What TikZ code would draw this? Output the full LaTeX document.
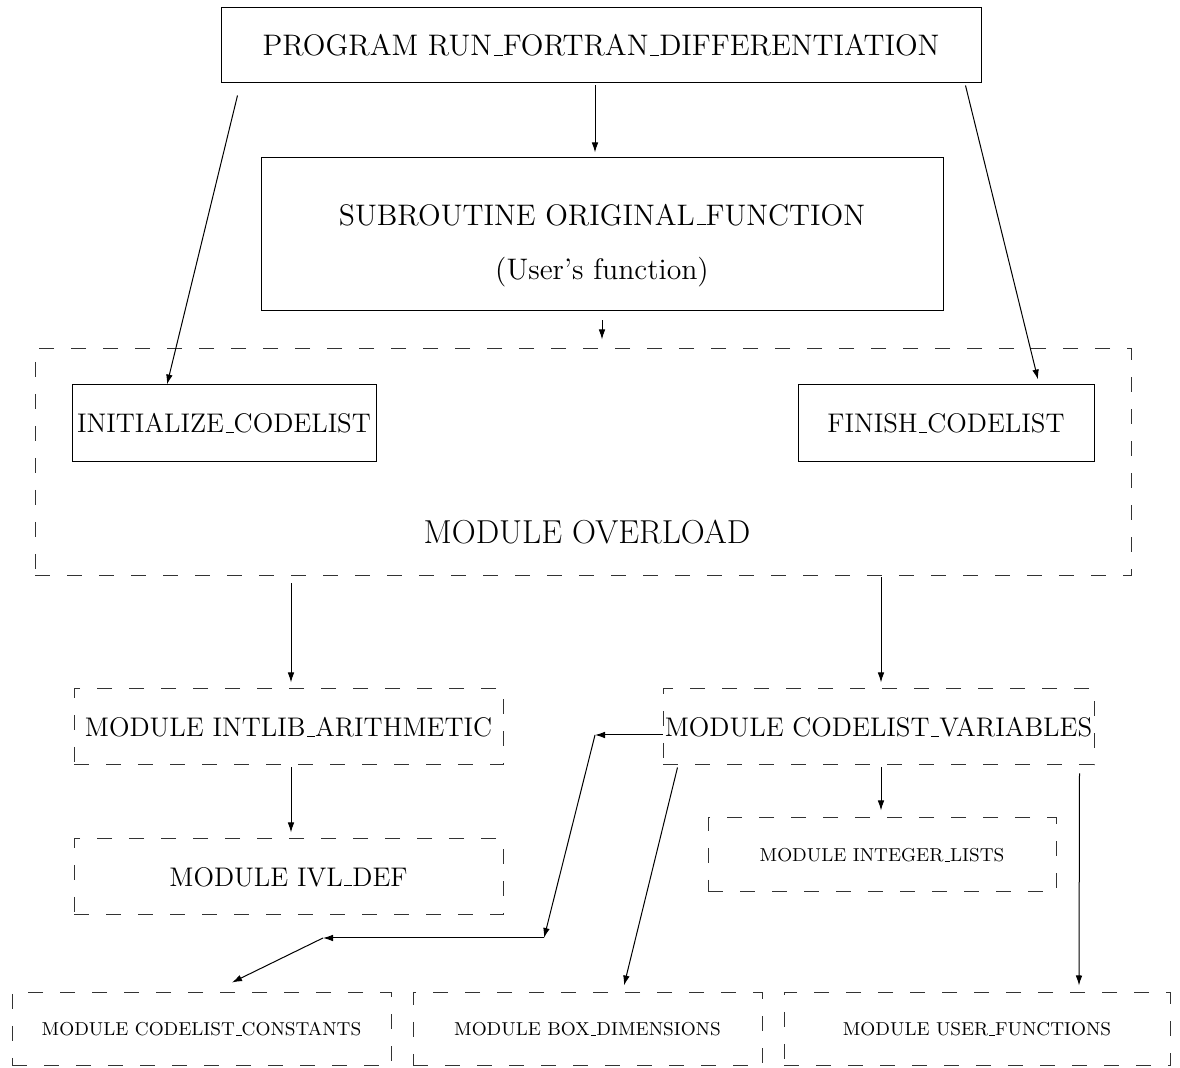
\documentclass[tikz,border=0pt]{standalone}
\usepackage{tikz}
\usetikzlibrary{positioning,arrows.meta}

\newcommand{\usc}{\leavevmode\kern.06em\vbox{\hrule width.3em}}

\begin{document}
\begin{tikzpicture}[x=0.5pt,y=-0.5pt,
    solidbox/.style={draw=black,line width=0.5pt,inner sep=0pt},
    dashbox/.style={draw=black!80,line width=0.5pt,dash pattern=on 7.5pt off 8.5pt,inner sep=0pt},
    arr/.style={-{Latex[length=5pt,width=3.3pt]},line width=0.5pt},
    bigtxt/.style={font=\fontsize{14.85}{17}\selectfont},
    midtxt/.style={font=\fontsize{13.45}{15}\selectfont},
    smalltxt/.style={font=\fontsize{9.35}{11}\selectfont}]

        \useasboundingbox (0,0) rectangle (1180,1068);

        % program and user function
        \node[solidbox,bigtxt,minimum width=380pt,minimum height=37.5pt] (prog) at (601,45.5) {PROGRAM RUN\usc FORTRAN\usc DIFFERENTIATION};
        \node[solidbox,minimum width=341pt,minimum height=76.5pt] (sub) at (602,234.5) {};
        \node[bigtxt] (subname) at (602,215) {SUBROUTINE ORIGINAL\usc FUNCTION};
        \node[bigtxt] (subnote) at (602,272) {(User's function)};

        % module overload
        \node[dashbox,minimum width=548pt,minimum height=113.5pt] (overload) at (583,462.5) {};
        \node[font=\fontsize{16.6}{19}\selectfont] (overloadname) at (587,532) {MODULE OVERLOAD};
        \node[solidbox,midtxt,minimum width=152pt,minimum height=38.5pt] (init) at (224,423.5) {INITIALIZE\usc CODELIST};
        \node[solidbox,midtxt,minimum width=148pt,minimum height=38.5pt] (finish) at (946,423.5) {FINISH\usc CODELIST};

        % used modules
        \node[dashbox,midtxt,minimum width=214.5pt,minimum height=38pt] (intlib) at (288.5,727) {MODULE INTLIB\usc ARITHMETIC};
        \node[dashbox,midtxt,minimum width=214.5pt,minimum height=38pt] (ivl) at (288.5,877) {MODULE IVL\usc DEF};
        \node[dashbox,midtxt,minimum width=215.5pt,minimum height=38pt] (cvars) at (878.5,727) {MODULE CODELIST\usc VARIABLES};
        \node[dashbox,smalltxt,minimum width=174pt,minimum height=37pt] (intlists) at (882,855) {MODULE INTEGER\usc LISTS};

        \node[dashbox,smalltxt,minimum width=189.5pt,minimum height=36.5pt] (consts) at (201.5,1029.5) {MODULE CODELIST\usc CONSTANTS};
        \node[dashbox,smalltxt,minimum width=174.5pt,minimum height=36.5pt] (boxdim) at (587.5,1029.5) {MODULE BOX\usc DIMENSIONS};
        \node[dashbox,smalltxt,minimum width=193pt,minimum height=36.5pt] (userfn) at (977,1029.5) {MODULE USER\usc FUNCTIONS};

        \coordinate (k1) at (595,735);
        \coordinate (k2) at (544,938);
        \coordinate (k3) at (323,938);

        \draw[arr] ([xshift=-3pt,yshift=-1pt]prog.south) to ([xshift=-3.5pt,yshift=2.5pt]sub.north);
        \draw[arr] ([yshift=-4.5pt]sub.south) to ([xshift=9.5pt,yshift=4.5pt]overload.north);
        \draw[arr] ([xshift=8.5pt,yshift=-6pt]prog.south west) to ([xshift=-28.5pt]init.north);
        \draw[arr] ([xshift=-8pt,yshift=-1pt]prog.south east) to ([xshift=46pt,yshift=2.5pt]finish.north);

        \draw[arr] ([xshift=-146pt,yshift=-3.5pt]overload.south) to ([xshift=1.25pt,yshift=3pt]intlib.north);
        \draw[arr] ([xshift=149pt,yshift=-0.5pt]overload.south) to ([xshift=1.25pt,yshift=3pt]cvars.north);
        \draw[arr] ([xshift=1.25pt,yshift=-1pt]intlib.south) to ([xshift=1.25pt,yshift=3pt]ivl.north);
        \draw[arr] ([xshift=1.25pt,yshift=-1pt]cvars.south) to ([xshift=-0.5pt,yshift=3.5pt]intlists.north);
        \draw[arr] ([xshift=-7.5pt,yshift=-4pt]cvars.south east) to ([xshift=51pt,yshift=3.5pt]userfn.north);
        \draw[arr] ([xshift=7.5pt,yshift=-1pt]cvars.south west) to ([xshift=18.25pt,yshift=3.5pt]boxdim.north);

        \draw[arr] ([yshift=-4pt]cvars.west) to (k1);
        \draw[arr] (k1) to (k2);
        \draw[arr] (k2) to (k3);
        \draw[arr] (k3) to ([xshift=15.25pt,yshift=5pt]consts.north);
    \end{tikzpicture}
\end{document}
